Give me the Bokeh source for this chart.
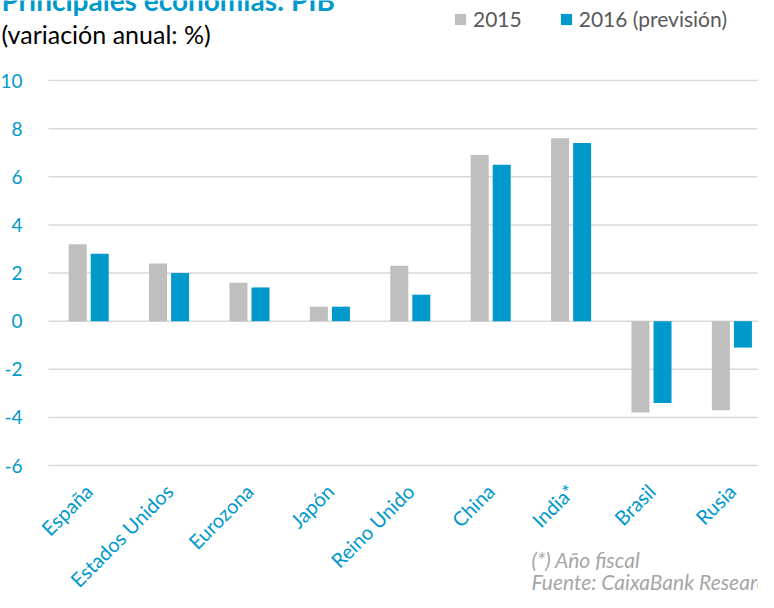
import numpy as np
from bokeh.plotting import figure
from bokeh.models import Range1d, FixedTicker, Label, Legend, LegendItem, LinearAxis
from bokeh.embed import file_html
from bokeh.resources import INLINE

categories = ["España", "Estados Unidos", "Eurozona", "Japón", "Reino Unido",
              "China", "India*", "Brasil", "Rusia"]
pib_2015 = [3.2, 2.4, 1.6, 0.6, 2.3, 6.9, 7.6, -3.8, -3.7]
pib_2016 = [2.8, 2.0, 1.4, 0.6, 1.1, 6.5, 7.4, -3.4, -1.1]
y_ticks = [-6, -4, -2, 0, 2, 4, 6, 8, 10]

BLUE = "#0099CC"
GREY = "#BFBFBF"
FONT = "Lato"

# canvas geometry (pixels)
W, H = 758, 592
LEFT = 48          # left edge of chart area
TOP = 80           # y of the top gridline (10)
BOTTOM = 465       # y of the bottom gridline (-6)
CAT_PX = 80.4      # width of one category
Y0, Y1 = y_ticks[0], y_ticks[-1]
PPU = (BOTTOM - TOP) / (Y1 - Y0)

def dx(cx):
    return (cx - LEFT) / CAT_PX

def dy(cy):
    return Y1 + (TOP - cy) / PPU

p = figure(width=W, height=H, output_backend="svg", toolbar_location=None,
           x_range=Range1d(dx(0), dx(W)), y_range=Range1d(dy(H), dy(0)),
           x_axis_location=None, y_axis_location=None,
           min_border=0)
p.outline_line_color = None
p.background_fill_color = "white"
p.border_fill_color = "white"
p.xgrid.grid_line_color = None
p.ygrid.grid_line_color = None

n = len(categories)
xs = np.arange(n) + 0.5

# gridlines
p.segment(x0=[0] * len(y_ticks), x1=[dx(W)] * len(y_ticks), y0=y_ticks, y1=y_ticks,
          line_color="#D9D9D9", line_width=1.5)

off, bw = 0.137, 0.224
r1 = p.vbar(x=xs - off, top=pib_2015, bottom=0, width=bw, fill_color=GREY, line_color=None)
r2 = p.vbar(x=xs + off, top=pib_2016, bottom=0, width=bw, fill_color=BLUE, line_color=None)

yaxis = LinearAxis(fixed_location=0, ticker=FixedTicker(ticks=y_ticks),
                   major_label_overrides={t: str(t) for t in y_ticks},
                   axis_line_color=None, major_tick_line_color=None,
                   minor_tick_line_color=None, major_label_text_color=BLUE,
                   major_label_text_font=FONT, major_label_text_font_size="19px",
                   major_label_standoff=20)
p.add_layout(yaxis, "left")

xaxis = LinearAxis(fixed_location=Y0, ticker=FixedTicker(ticks=list(xs)),
                   major_label_overrides={float(x): c for x, c in zip(xs, categories)},
                   axis_line_color=None, major_tick_line_color=None,
                   minor_tick_line_color=None, major_label_orientation=np.pi / 4,
                   major_label_text_color=BLUE, major_label_text_font=FONT,
                   major_label_text_font_size="20px", major_label_standoff=16)
p.add_layout(xaxis, "below")

p.add_layout(Label(x=dx(1), y=dy(-1), text="Principales economías: PIB",
                   text_font=FONT, text_font_style="bold", text_font_size="28px",
                   text_color=BLUE, text_baseline="alphabetic"))
p.add_layout(Label(x=dx(1), y=dy(33), text="(variación anual: %)",
                   text_font=FONT, text_font_size="25px",
                   text_color="#000000", text_baseline="alphabetic"))
p.add_layout(Label(x=dx(531), y=dy(559), text="(*) Año fiscal",
                   text_font=FONT, text_font_style="italic", text_font_size="21px",
                   text_color="#A6A6A6", text_baseline="alphabetic"))
p.add_layout(Label(x=dx(531), y=dy(581), text="Fuente: CaixaBank Research",
                   text_font=FONT, text_font_style="italic", text_font_size="21px",
                   text_color="#A6A6A6", text_baseline="alphabetic"))

legend = Legend(items=[LegendItem(label="2015", renderers=[r1]),
                       LegendItem(label="2016 (previsión)", renderers=[r2])],
                location=(453, H - 31), orientation="horizontal",
                glyph_width=14, glyph_height=14, label_standoff=6, spacing=37,
                padding=0, margin=0, border_line_color=None,
                background_fill_alpha=0,
                label_text_font=FONT, label_text_font_size="21px",
                label_text_color="#595959")
p.add_layout(legend)

open("out.html", "w").write(file_html(p, INLINE))
